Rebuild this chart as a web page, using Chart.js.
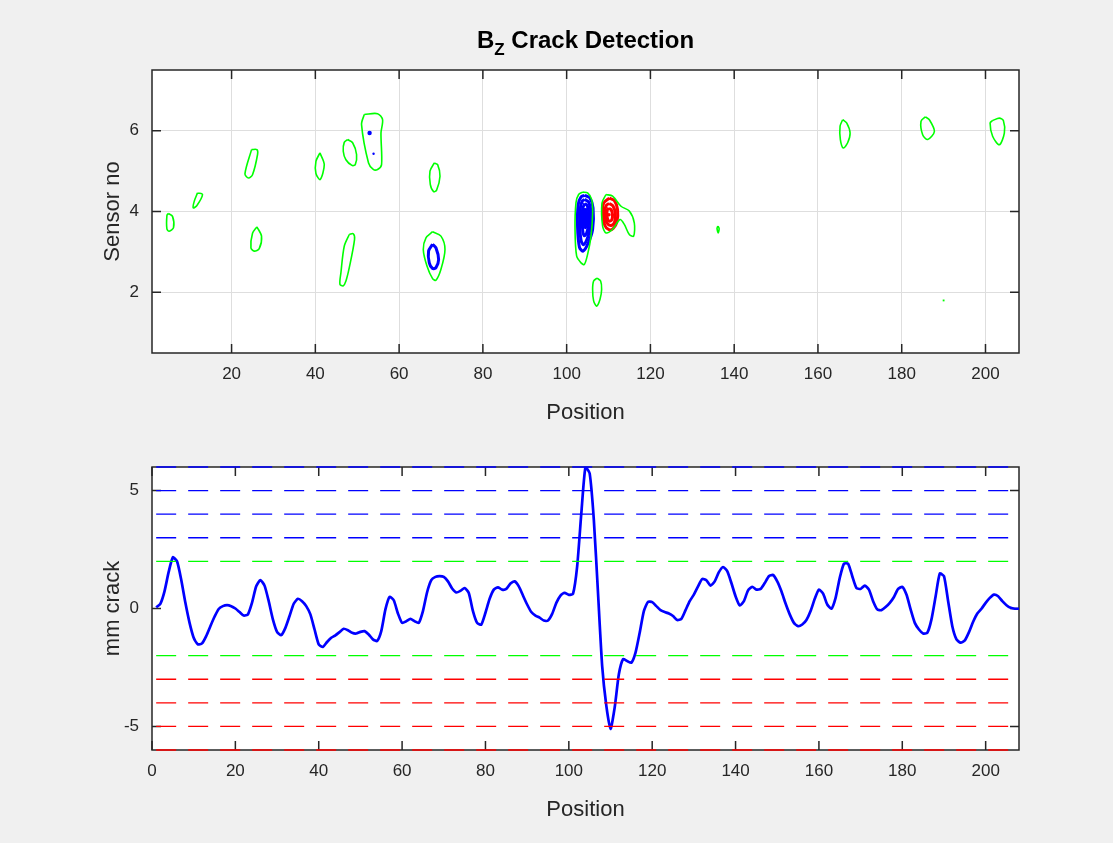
<!DOCTYPE html>
<html>
<head>
<meta charset="utf-8">
<script src="https://cdn.jsdelivr.net/npm/chart.js@4.4.1/dist/chart.umd.min.js"></script>
<style>
	html, body { margin: 0; padding: 0; background: #f0f0f0; }
	#wrap { position: relative; width: 1113px; height: 843px; }
	canvas { position: absolute; left: 0; }
	#topPlot { top: 0; }
	#bottomPlot { top: 430px; }
</style>
</head>
<body>
<div id="wrap">
	<canvas id="topPlot" width="1113" height="430"></canvas>
	<canvas id="bottomPlot" width="1113" height="413"></canvas>
</div>
<script>
// tick values
const topXTicks = [20, 40, 60, 80, 100, 120, 140, 160, 180, 200];
const topYTicks = [2, 4, 6];
const bottomXTicks = [0, 20, 40, 60, 80, 100, 120, 140, 160, 180, 200];
const bottomYTicks = [-5, 0, 5];

// contour lines of Bz (position, sensor no)
const greenContours = [
	[[4.87,3.95],[5.9,3.88],[6.14,3.6],[5.1,3.51],[4.56,3.57],[4.56,3.9]],
	[[11.87,4.46],[13.06,4.42],[11.73,4.15],[10.84,4.09],[11.08,4.25]],
	[[24.77,5.53],[26.05,5.53],[26.2,5.41],[25.0,4.91],[24.05,4.83],[23.19,4.93]],
	[[26.05,3.62],[27.15,3.39],[26.6,3.08],[25.4,3.02],[24.62,3.1],[25.0,3.46]],
	[[41.1,5.45],[42.13,5.16],[41.17,4.79],[40.14,4.94],[40.14,5.24]],
	[[47.7,5.78],[48.9,5.7],[49.84,5.41],[49.53,5.16],[48.74,5.14],[47.3,5.28],[46.66,5.49],[46.9,5.71]],
	[[51.68,6.4],[54.86,6.42],[56.05,6.27],[55.67,5.94],[55.81,5.16],[54.86,5.04],[53.83,5.04],[52.7,5.2],[51.03,6.15]],
	[[68.4,5.2],[69.2,5.16],[69.76,4.87],[68.95,4.53],[68.23,4.49],[67.44,4.67],[67.37,5.0]],
	[[48.1,3.43],[49.05,3.45],[49.36,3.31],[48.1,2.61],[47.3,2.28],[46.66,2.16],[45.87,2.2],[46.11,2.49],[46.9,3.14]],
	[[67.99,3.5],[69.99,3.39],[70.95,3.06],[69.99,2.57],[68.8,2.3],[67.99,2.34],[66.65,2.65],[65.77,3.06],[66.41,3.35]],
	[[103.81,4.48],[105.0,4.46],[105.96,4.3],[106.2,3.97],[105.82,3.39],[105.0,2.94],[104.22,2.69],[103.43,2.73],[102.38,2.9],[102.0,3.56],[102.23,4.22],[102.86,4.42]],
	[[109.4,4.42],[110.97,4.38],[112.98,4.13],[114.96,4.01],[116.15,3.72],[115.99,3.39],[114.96,3.43],[113.77,3.68],[112.74,3.8],[110.97,3.56],[109.4,3.47],[108.59,3.64],[108.44,4.21]],
	[[107.25,2.35],[108.11,2.28],[108.35,2.07],[107.97,1.83],[107.16,1.66],[106.44,1.79],[106.2,2.07],[106.44,2.28]],
	[[136.1,3.64],[136.4,3.58],[136.2,3.47],[135.9,3.58]],
	[[165.9,6.27],[166.85,6.19],[167.67,5.94],[167.09,5.7],[166.06,5.57],[165.35,5.78],[165.28,6.11]],
	[[185.65,6.34],[186.6,6.27],[187.8,5.98],[186.2,5.78],[185.0,5.9],[184.6,6.23]],
	[[201.7,6.25],[203.3,6.31],[204.27,6.25],[204.5,5.94],[203.3,5.65],[201.7,5.86],[201.1,6.19]]
];
const greenSpecks = [[190, 1.8]];

const blueContours = [
	[[67.99,3.19],[68.8,3.1],[69.43,2.81],[68.8,2.61],[67.99,2.59],[67.2,2.73],[67.03,3.02]],
	[[104.3,4.4],[105.5,4.34],[106.3,4.09],[106.2,3.56],[105.15,3.22],[103.9,3.02],[103.05,3.12],[102.6,3.63],[102.75,4.17],[103.45,4.36]],
	[[104.3,4.3],[105.2,4.24],[105.8,4.02],[105.7,3.62],[104.95,3.34],[104.05,3.18],[103.45,3.28],[103.15,3.68],[103.3,4.1],[103.75,4.26]],
	[[104.35,4.2],[104.95,4.14],[105.3,3.95],[105.2,3.66],[104.75,3.46],[104.2,3.4],[103.85,3.52],[103.7,3.8],[103.85,4.08]],
	[[104.4,4.08],[104.7,4.02],[104.85,3.85],[104.75,3.66],[104.45,3.6],[104.2,3.68],[104.15,3.88],[104.23,4.02]]
];
const blueSpecks = [[52.95, 5.94], [53.9, 5.43]];

const redContours = [
	[[110.2,4.33],[111.4,4.27],[112.15,4.05],[112.0,3.74],[111.1,3.58],[110.1,3.55],[109.1,3.66],[108.6,3.95],[108.85,4.21]],
	[[110.15,4.2],[111.05,4.14],[111.6,3.96],[111.45,3.74],[110.8,3.66],[109.9,3.68],[109.3,3.8],[109.15,4.02],[109.45,4.15]],
	[[110.1,4.08],[110.65,4.04],[110.95,3.93],[110.8,3.8],[110.2,3.76],[109.75,3.82],[109.6,3.95],[109.75,4.05]]
];
const redSpecks = [[110.1, 3.92]];

// crack estimate along the pipe
const positions = Array.from({ length: 208 }, (_, i) => i + 1);
const crackMm = [
	0.05, 0.2, 0.73, 1.55, 2.17, 2.0, 1.23, 0.25, -0.6, -1.24,
	-1.52, -1.48, -1.17, -0.75, -0.35, -0.02, 0.1, 0.14, 0.1, 0.0,
	-0.15, -0.3, -0.25, 0.25, 0.94, 1.2, 0.97, 0.31, -0.46, -0.99,
	-1.13, -0.82, -0.32, 0.2, 0.41, 0.31, 0.1, -0.25, -0.89, -1.52,
	-1.63, -1.42, -1.24, -1.14, -1.0, -0.86, -0.92, -1.03, -1.06, -0.99,
	-0.96, -1.1, -1.31, -1.38, -0.96, -0.04, 0.49, 0.35, -0.21, -0.61,
	-0.54, -0.44, -0.54, -0.61, -0.11, 0.69, 1.2, 1.34, 1.37, 1.34,
	1.15, 0.85, 0.68, 0.75, 0.87, 0.66, -0.11, -0.61, -0.68, -0.18,
	0.41, 0.8, 0.9, 0.8, 0.83, 1.06, 1.15, 0.94, 0.55, 0.17,
	-0.15, -0.3, -0.39, -0.51, -0.51, -0.23, 0.24, 0.55, 0.66, 0.58,
	0.62, 1.79, 4.04, 6.01, 5.73, 3.76, 0.66, -2.44, -4.13, -5.11,
	-4.2, -2.79, -2.15, -2.23, -2.3, -1.87, -1.03, -0.11, 0.28, 0.27,
	0.1, -0.07, -0.15, -0.21, -0.32, -0.49, -0.44, -0.07, 0.31, 0.59,
	0.94, 1.25, 1.2, 0.97, 1.15, 1.54, 1.76, 1.58, 1.08, 0.52,
	0.13, 0.31, 0.77, 0.92, 0.8, 0.83, 1.08, 1.37, 1.42, 1.15,
	0.73, 0.21, -0.25, -0.61, -0.75, -0.68, -0.49, -0.11, 0.41, 0.8,
	0.63, 0.17, -0.01, 0.45, 1.3, 1.9, 1.9, 1.37, 0.87, 0.83,
	0.97, 0.8, 0.31, -0.04, -0.07, 0.06, 0.24, 0.49, 0.83, 0.92,
	0.59, -0.04, -0.61, -0.89, -1.06, -1.03, -0.46, 0.52, 1.48, 1.37,
	0.31, -0.75, -1.31, -1.45, -1.35, -1.0, -0.56, -0.21, -0.01, 0.24,
	0.45, 0.59, 0.52, 0.31, 0.14, 0.03, -0.01, -0.01
];
const thresholdLevels = [6, 5, 4, 3, 2, -2, -3, -4, -5, -6];
const thresholdStart = 1;
const thresholdEnd = 208;

const FONT = "'Liberation Sans', Arial, sans-serif";
const AXIS_COLOR = "#262626";

const toPoints = (ring) => ring.concat([ring[0]]).map((p) => ({ x: p[0], y: p[1] }));

// white plot area, box and inward ticks like matlab
const framePlugin = {
	id: "frame",
	beforeDraw(chart) {
		const a = chart.chartArea;
		const ctx = chart.ctx;
		ctx.save();
		ctx.fillStyle = "#ffffff";
		ctx.fillRect(a.left, a.top, a.right - a.left, a.bottom - a.top);
		ctx.restore();
	},
	beforeDatasetsDraw(chart) {
		const a = chart.chartArea;
		const ctx = chart.ctx;
		const xs = chart.scales.x;
		const ys = chart.scales.y;
		const len = 9;
		ctx.save();
		ctx.strokeStyle = AXIS_COLOR;
		ctx.lineWidth = 1.5;
		ctx.beginPath();
		xs.ticks.forEach((t) => {
			const px = xs.getPixelForValue(t.value);
			ctx.moveTo(px, a.bottom);
			ctx.lineTo(px, a.bottom - len);
			ctx.moveTo(px, a.top);
			ctx.lineTo(px, a.top + len);
		});
		ys.ticks.forEach((t) => {
			const py = ys.getPixelForValue(t.value);
			ctx.moveTo(a.left, py);
			ctx.lineTo(a.left + len, py);
			ctx.moveTo(a.right, py);
			ctx.lineTo(a.right - len, py);
		});
		ctx.stroke();
		ctx.strokeRect(a.left, a.top, a.right - a.left, a.bottom - a.top);
		ctx.restore();
	},
};

// axis titles and the figure title
const labelPlugin = {
	id: "labels",
	afterDraw(chart, args, opts) {
		const a = chart.chartArea;
		const ctx = chart.ctx;
		const cx = (a.left + a.right) / 2;
		const cy = (a.top + a.bottom) / 2;
		ctx.save();
		ctx.fillStyle = AXIS_COLOR;
		ctx.font = "22px " + FONT;
		ctx.textAlign = "center";
		ctx.textBaseline = "middle";
		ctx.fillText(opts.xTitle, cx, a.bottom + 60);
		ctx.translate(a.left - 39, cy);
		ctx.rotate(-Math.PI / 2);
		ctx.fillText(opts.yTitle, 0, 0);
		ctx.restore();

		if (opts.title) {
			ctx.save();
			ctx.fillStyle = "#000000";
			ctx.textBaseline = "alphabetic";
			ctx.textAlign = "left";
			const big = "bold 24px " + FONT;
			const small = "bold 17px " + FONT;
			ctx.font = big;
			const wB = ctx.measureText("B").width;
			const wRest = ctx.measureText(" Crack Detection").width;
			ctx.font = small;
			const wZ = ctx.measureText("Z").width;
			let x = cx - (wB + wZ + wRest) / 2;
			const base = a.top - 22;
			ctx.font = big;
			ctx.fillText("B", x, base);
			x += wB;
			ctx.font = small;
			ctx.fillText("Z", x, base + 7);
			x += wZ;
			ctx.font = big;
			ctx.fillText(" Crack Detection", x, base);
			ctx.restore();
		}
	},
};

const tickFont = { family: FONT, size: 17 };

const setTicks = (values) => (scale) => {
	scale.ticks = values.map((v) => ({ value: v }));
};

// top: contour map
const topDatasets = [];
greenContours.forEach((ring) => {
	topDatasets.push({ data: toPoints(ring), showLine: true, borderColor: "#00ff00", borderWidth: 1.6, pointRadius: 0, tension: 0.3 });
});
blueContours.forEach((ring) => {
	topDatasets.push({ data: toPoints(ring), showLine: true, borderColor: "#0000ff", borderWidth: 3, pointRadius: 0, tension: 0.3 });
});
redContours.forEach((ring) => {
	topDatasets.push({ data: toPoints(ring), showLine: true, borderColor: "#ff0000", borderWidth: 3, pointRadius: 0, tension: 0.3 });
});
topDatasets.push({ data: greenSpecks.map((p) => ({ x: p[0], y: p[1] })), showLine: false, pointRadius: 1.3, pointStyle: "rect", backgroundColor: "#00ff00", borderWidth: 0 });
topDatasets.push({ data: blueSpecks.map((p) => ({ x: p[0], y: p[1] })), showLine: false, pointRadius: [2.2, 1.2], backgroundColor: "#0000ff", borderWidth: 0 });
topDatasets.push({ data: redSpecks.map((p) => ({ x: p[0], y: p[1] })), showLine: false, pointRadius: 1.8, backgroundColor: "#ff0000", borderWidth: 0 });

new Chart(document.getElementById("topPlot").getContext("2d"), {
	type: "scatter",
	data: { datasets: topDatasets },
	options: {
		responsive: false,
		animation: false,
		layout: { padding: { top: 70, right: 94, left: 0, bottom: 0 } },
		plugins: {
			legend: { display: false },
			tooltip: { enabled: false },
			labels: { title: true, xTitle: "Position", yTitle: "Sensor no" },
		},
		scales: {
			x: {
				type: "linear",
				min: 1,
				max: 208,
				afterBuildTicks: setTicks(topXTicks),
				afterFit: (s) => { s.height = 77; },
				grid: { color: "#dedede", drawTicks: false },
				border: { display: false },
				ticks: { font: tickFont, color: AXIS_COLOR, padding: 11, maxRotation: 0 },
			},
			y: {
				type: "linear",
				min: 0.5,
				max: 7.5,
				afterBuildTicks: setTicks(topYTicks),
				afterFit: (s) => { s.width = 152; },
				grid: { color: "#dedede", drawTicks: false },
				border: { display: false },
				ticks: { font: tickFont, color: AXIS_COLOR, padding: 13 },
			},
		},
	},
	plugins: [framePlugin, labelPlugin],
});

// bottom: crack size with threshold lines
const levelColor = (v) => (v > 2 ? "#0000ff" : v < -2 ? "#ff0000" : "#00ff00");
const bottomDatasets = thresholdLevels.map((v) => ({
	data: [{ x: thresholdStart, y: v }, { x: thresholdEnd, y: v }],
	showLine: true,
	clip: false,
	borderColor: levelColor(v),
	borderWidth: 1.4,
	borderDash: [20, 12],
	pointRadius: 0,
}));
bottomDatasets.push({
	data: positions.map((p, i) => ({ x: p, y: crackMm[i] })),
	showLine: true,
	borderColor: "#0000ff",
	borderWidth: 2.7,
	pointRadius: 0,
	tension: 0.2,
});

new Chart(document.getElementById("bottomPlot").getContext("2d"), {
	type: "scatter",
	data: { datasets: bottomDatasets },
	options: {
		responsive: false,
		animation: false,
		layout: { padding: { top: 37, right: 94, left: 0, bottom: 0 } },
		plugins: {
			legend: { display: false },
			tooltip: { enabled: false },
			labels: { title: false, xTitle: "Position", yTitle: "mm crack" },
		},
		scales: {
			x: {
				type: "linear",
				min: 0,
				max: 208,
				afterBuildTicks: setTicks(bottomXTicks),
				afterFit: (s) => { s.height = 93; },
				grid: { display: false, drawTicks: false },
				border: { display: false },
				ticks: { font: tickFont, color: AXIS_COLOR, padding: 11, maxRotation: 0 },
			},
			y: {
				type: "linear",
				min: -6,
				max: 6,
				afterBuildTicks: setTicks(bottomYTicks),
				afterFit: (s) => { s.width = 152; },
				grid: { display: false, drawTicks: false },
				border: { display: false },
				ticks: { font: tickFont, color: AXIS_COLOR, padding: 13 },
			},
		},
	},
	plugins: [framePlugin, labelPlugin],
});
</script>
</body>
</html>
